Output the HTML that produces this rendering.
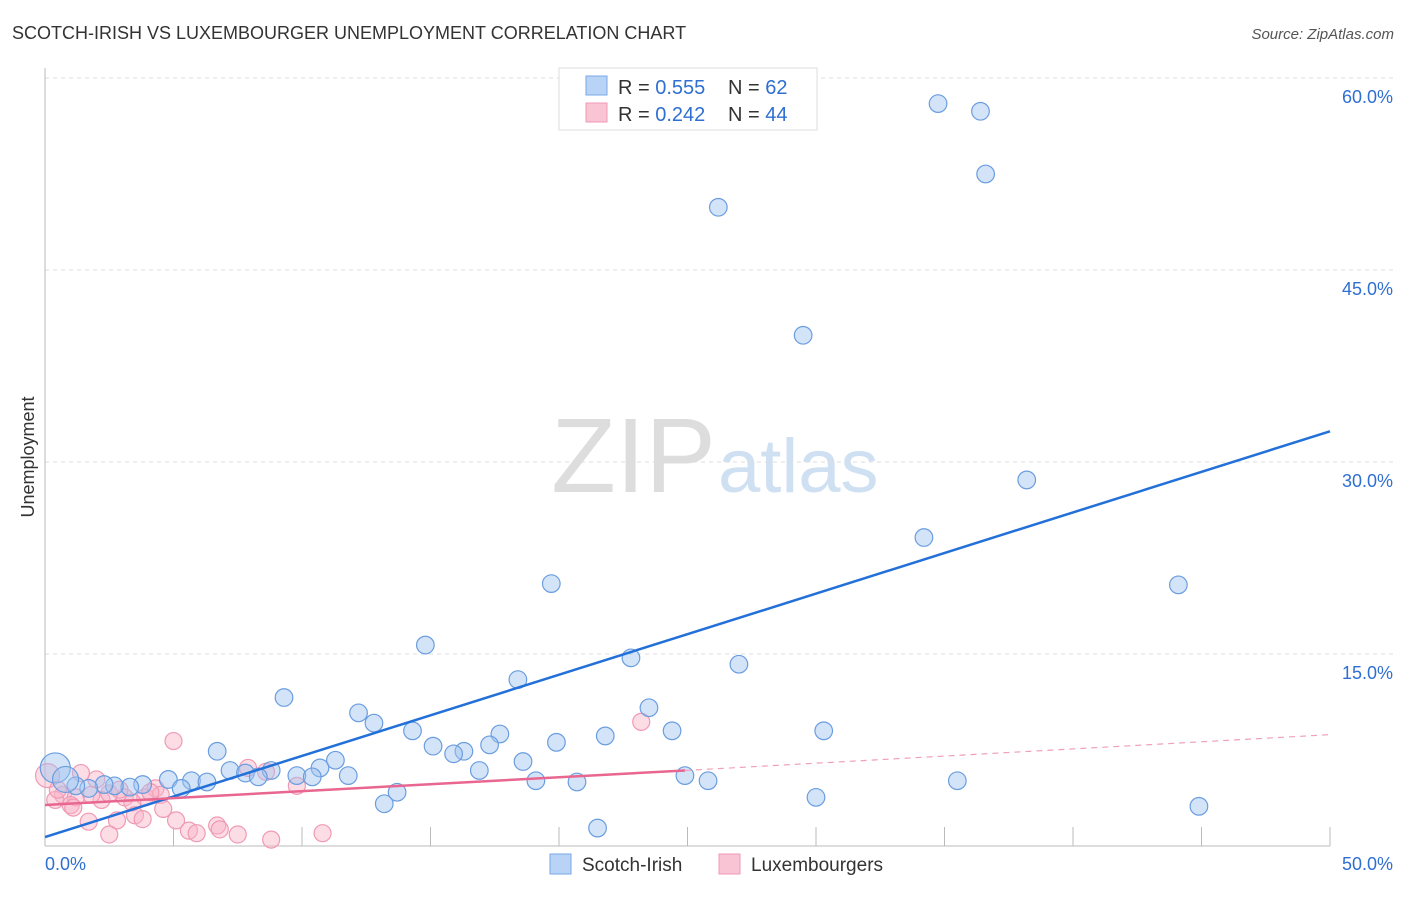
<!DOCTYPE html>
<html><head><meta charset="utf-8"><style>
body{margin:0;background:#fff;font-family:"Liberation Sans",sans-serif;}
svg text{font-family:"Liberation Sans",sans-serif;}
</style></head><body>
<svg id="chart" width="1406" height="892">
<text x="12" y="39" font-size="18" fill="#333">SCOTCH-IRISH VS LUXEMBOURGER UNEMPLOYMENT CORRELATION CHART</text>
<text x="1394" y="39" font-size="15" fill="#555" font-style="italic" text-anchor="end">Source: ZipAtlas.com</text>
<text x="34" y="457" font-size="18" fill="#333" transform="rotate(-90 34 457)" text-anchor="middle">Unemployment</text>
<text x="716" y="492" font-size="106" fill="#ddd" text-anchor="end" font-family="Liberation Serif">ZIP</text>
<text x="718" y="492" font-size="76" fill="#cfe0f3">atlas</text>
<g id="grid"></g><g id="pts"></g><g id="lines"></g>
<g>
<rect x="559" y="68" width="258" height="62" fill="#fff" stroke="#ddd"/>
<rect x="586" y="76" width="21" height="19" fill="#b8d3f5" stroke="#7aa8e8"/>
<rect x="586" y="103" width="21" height="19" fill="#f9c4d3" stroke="#f09ab5"/>
<text x="618" y="94" font-size="20" fill="#333">R = <tspan fill="#2f6fd1">0.555</tspan></text>
<text x="728" y="94" font-size="20" fill="#333">N = <tspan fill="#2f6fd1"> 62</tspan></text>
<text x="618" y="121" font-size="20" fill="#333">R = <tspan fill="#2f6fd1">0.242</tspan></text>
<text x="728" y="121" font-size="20" fill="#333">N = <tspan fill="#2f6fd1">44</tspan></text>
</g>
<g>
<rect x="550" y="854" width="21" height="20" fill="#b8d3f5" stroke="#7aa8e8"/>
<text x="582" y="871" font-size="19" fill="#333">Scotch-Irish</text>
<rect x="719" y="854" width="21" height="20" fill="#f9c4d3" stroke="#f09ab5"/>
<text x="751" y="871" font-size="19" fill="#333">Luxembourgers</text>
</g>
</svg>
<script>
const yTicks=[15,30,45,60];
const yTickLabels=["15.0%","30.0%","45.0%","60.0%"];
const xEndLabels=["0.0%","50.0%"];
const blueX=[34.75,36.4,36.6,26.2,29.5,38.2,34.2,19.7,44.1,14.8,22.8,27.0,18.4,9.3,23.5,12.2,12.8,30.3,24.4,14.3,17.7,21.8,19.9,15.1,17.3,6.7,16.3,15.9,11.3,18.6,10.7,7.2,8.8,16.9,9.8,11.8,10.4,24.9,7.8,8.3,4.8,5.7,6.3,25.8,35.5,19.1,20.7,3.8,3.3,2.7,2.3,5.3,1.7,1.2,0.4,0.8,13.7,30.0,13.2,44.9,21.5];
const blueY=[58.0,57.4,52.5,49.9,39.9,28.6,24.1,20.5,20.4,15.7,14.7,14.2,13.0,11.6,10.8,10.4,9.6,9.0,9.0,9.0,8.75,8.6,8.1,7.8,7.9,7.4,7.4,7.2,6.7,6.6,6.1,5.9,5.9,5.9,5.5,5.5,5.4,5.5,5.7,5.4,5.2,5.1,5.0,5.1,5.1,5.1,5.0,4.8,4.6,4.7,4.8,4.5,4.5,4.7,6.1,5.2,4.2,3.8,3.3,3.1,1.4];
const pinkX=[5.0,23.2,7.9,8.6,1.4,0.1,2.0,4.3,4.5,9.8,0.7,1.2,2.2,3.1,3.9,0.4,1.0,1.8,2.5,3.4,4.6,1.1,3.5,2.8,3.8,1.7,5.1,5.6,6.7,6.8,7.5,5.9,8.8,10.8,2.5,0.5,2.9,4.1];
const pinkY=[8.2,9.7,6.1,5.8,5.7,5.5,5.2,4.5,4.0,4.7,4.0,3.8,3.6,3.8,3.8,3.6,3.2,4.0,4.1,3.4,2.9,3.0,2.4,2.0,2.1,1.9,2.0,1.2,1.6,1.3,0.9,1.0,0.5,1.0,0.9,4.4,4.4,4.2];
const blueTrend=[0.7,32.4];
const pinkTrend=[3.2,5.9,8.7];
const pinkSolidEnd=24.9;
const NS="http://www.w3.org/2000/svg";
const sx=v=>45+v/50*1285, sy=v=>846-v/15*192;
function mk(t,a,p){const e=document.createElementNS(NS,t);for(const k in a)e.setAttribute(k,a[k]);p.appendChild(e);return e;}
const g=document.getElementById('grid');
yTicks.forEach((t,i)=>{
 const l=mk('line',{x1:45,x2:1394,y1:sy(t),y2:sy(t),stroke:'#ddd','stroke-dasharray':'4,4'},g);
 
 
 const tx=mk('text',{x:1393,y:sy(t)+25,'font-size':18,fill:'#2f6fd1','text-anchor':'end'},g);tx.textContent=yTickLabels[i];
 
 
});
mk('line',{x1:45,x2:45,y1:68,y2:846,stroke:'#bbb'},g);
mk('line',{x1:45,x2:1330,y1:846,y2:846,stroke:'#bbb'},g);
for(let k=1;k<=10;k++){const x=45+k*128.5;const t=mk('line',{x1:x,x2:x,y1:827,y2:846,stroke:'#bbb'},g);
 
 }
const a=mk('text',{x:45,y:870,'font-size':18,fill:'#2f6fd1'},g);a.textContent=xEndLabels[0];


const b=mk('text',{x:1393,y:870,'font-size':18,fill:'#2f6fd1','text-anchor':'end'},g);b.textContent=xEndLabels[1];


const p=document.getElementById('pts');
pinkX.forEach((x,i)=>{const c=mk('circle',{cx:sx(x),cy:sy(pinkY[i]),r:x<0.3?12:8.5,fill:'rgba(248,180,200,0.45)',stroke:'#f09ab5','stroke-width':1.2},p);
 
 });
blueX.forEach((x,i)=>{const c=mk('circle',{cx:sx(x),cy:sy(blueY[i]),r:x<0.5?15:(x<1?13:8.8),fill:'rgba(160,195,240,0.45)',stroke:'#6a9de0','stroke-width':1.2},p);
 
 });
const L=document.getElementById('lines');
const bl=mk('line',{x1:sx(0),y1:sy(blueTrend[0]),x2:sx(50),y2:sy(blueTrend[1]),stroke:'#2270d8','stroke-width':2.5},L);


const pl=mk('line',{x1:sx(0),y1:sy(pinkTrend[0]),x2:sx(pinkSolidEnd),y2:sy(pinkTrend[1]),stroke:'#e8668f','stroke-width':2.5},L);


const pd=mk('line',{x1:sx(pinkSolidEnd),y1:sy(pinkTrend[1]),x2:sx(50),y2:sy(pinkTrend[2]),stroke:'#f0a0b8','stroke-width':1.2,'stroke-dasharray':'6,5'},L);


</script>
</body></html>
